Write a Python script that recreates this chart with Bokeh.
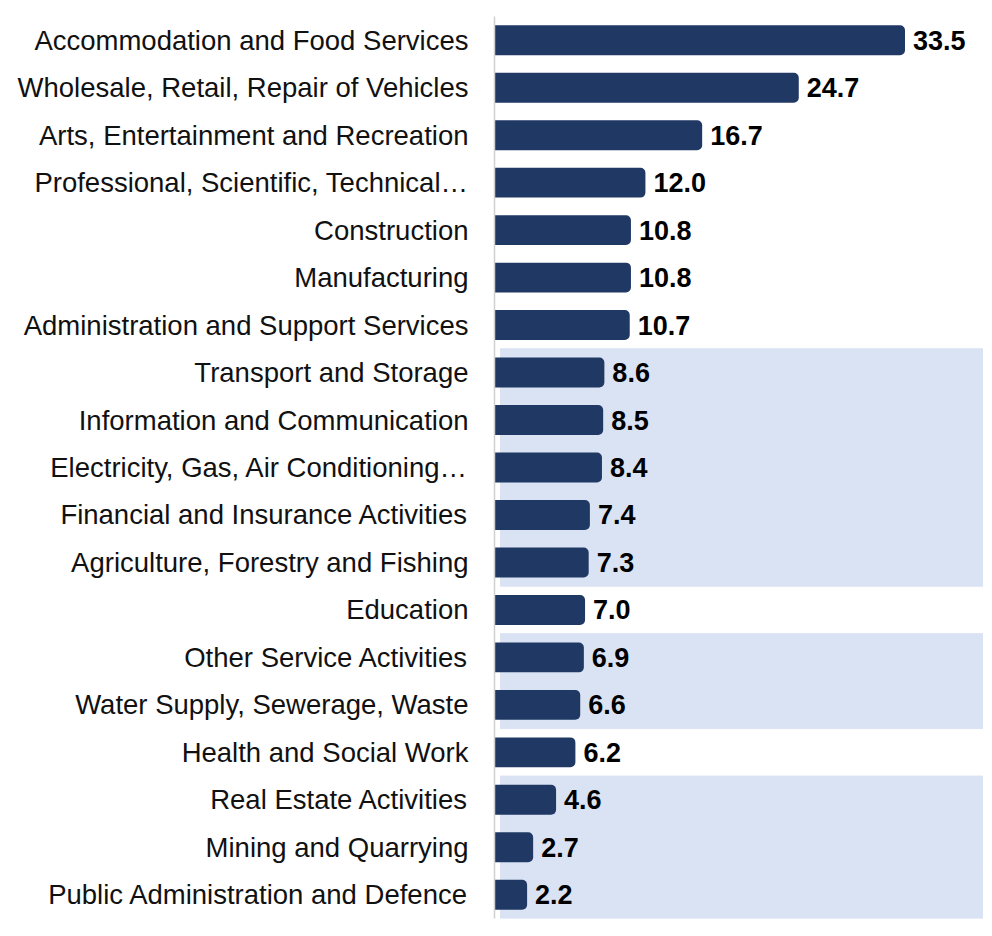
from bokeh.plotting import figure
from bokeh.models import ColumnDataSource
from bokeh.core.properties import value
from bokeh.embed import file_html
from bokeh.resources import INLINE

categories = [
    "Accommodation and Food Services",
    "Wholesale, Retail, Repair of Vehicles",
    "Arts, Entertainment and Recreation",
    "Professional, Scientific, Technical…",
    "Construction",
    "Manufacturing",
    "Administration and Support Services",
    "Transport and Storage",
    "Information and Communication",
    "Electricity, Gas, Air Conditioning…",
    "Financial and Insurance Activities",
    "Agriculture, Forestry and Fishing",
    "Education",
    "Other Service Activities",
    "Water Supply, Sewerage, Waste",
    "Health and Social Work",
    "Real Estate Activities",
    "Mining and Quarrying",
    "Public Administration and Defence",
]
values = [33.5, 24.7, 16.7, 12.0, 10.8, 10.8, 10.7, 8.6, 8.5, 8.4,
          7.4, 7.3, 7.0, 6.9, 6.6, 6.2, 4.6, 2.7, 2.2]
shaded = [0, 0, 0, 0, 0, 0, 0, 1, 1, 1, 1, 1, 0, 1, 1, 0, 1, 1, 1]
value_labels = [f"{v:.1f}" for v in values]

X_START, X_END = -0.5, 40

BAR_COLOR = "#1F3864"
BAND_COLOR = "#DAE3F3"

src = ColumnDataSource(dict(cat=categories, val=values, lab=value_labels))
band_src = ColumnDataSource(dict(
    cat=[c for c, s in zip(categories, shaded) if s],
))

p = figure(
    width=983, height=926,
    y_range=list(reversed(categories)),
    x_range=(X_START, X_END),
    output_backend="svg", toolbar_location=None,
    x_axis_location=None,
    min_border_left=494, min_border_right=0,
    min_border_top=16, min_border_bottom=8,
)
p.outline_line_color = None
p.grid.visible = False
p.background_fill_color = "white"
p.border_fill_color = "white"

p.hbar(y="cat", left=0, right=X_END, height=1.0, source=band_src,
       fill_color=BAND_COLOR, line_color=BAND_COLOR, line_width=1)

p.hbar(y="cat", left=X_START, right="val", height=0.63, source=src,
       fill_color=BAR_COLOR, line_color=None, border_radius=(0, 5, 5, 0))

p.text(x="val", y="cat", text="lab", source=src,
       x_offset=8, text_align="left", text_baseline="middle",
       text_font=value("Liberation Sans"), text_font_style="bold",
       text_font_size="27px", text_color="#000000")

ax = p.yaxis[0]
ax.axis_line_color = "#D0D0D0"
ax.axis_line_width = 1.5
ax.major_tick_line_color = None
ax.minor_tick_line_color = None
ax.major_tick_out = 0
ax.major_tick_in = 0
ax.major_label_standoff = 26
ax.major_label_text_font = "Liberation Sans"
ax.major_label_text_font_size = "27.5px"
ax.major_label_text_color = "#111111"

open("out.html", "w").write(file_html(p, INLINE))
